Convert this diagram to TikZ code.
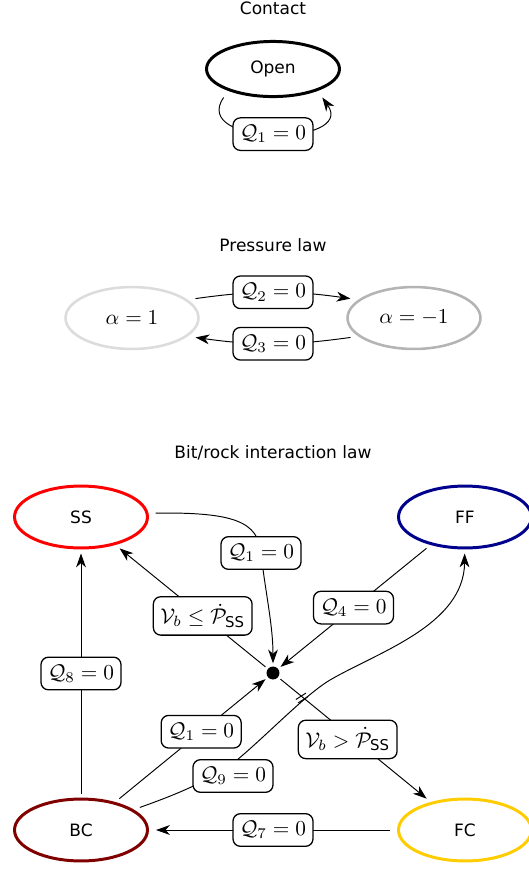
\documentclass[tikz,border=0pt]{standalone}
\usepackage{amsmath}
\usepackage{fontspec}
\newfontfamily\dv{DejaVu Sans}
\usetikzlibrary{arrows.meta,shapes.geometric,calc}
\definecolor{ssred}{RGB}{255,0,0}
\definecolor{ffblue}{RGB}{0,0,140}
\definecolor{bcred}{RGB}{128,0,0}
\definecolor{fcgold}{RGB}{255,204,0}
\definecolor{lgray}{RGB}{220,220,220}
\definecolor{mgray}{RGB}{180,180,180}
\begin{document}
\begin{tikzpicture}[x=0.47pt,y=-0.47pt,
  txt/.style={font=\dv\fontsize{8}{9.6}\selectfont},
  state/.style={ellipse, draw, line width=1.4pt, minimum width=62.5pt, minimum height=29.1pt,
    inner sep=0pt, outer xsep=4pt, outer ysep=2.6pt, txt},
  lbl/.style={draw, fill=white, rounded corners=3.5pt, line width=0.6pt, inner xsep=3.3pt, inner ysep=3.5pt},
  edge/.style={line width=0.45pt},
  arr/.style={edge, -{Stealth[length=6.5pt,width=4.6pt,inset=2pt]}},
  rarr/.style={edge, {Stealth[length=6.5pt,width=4.6pt,inset=2pt]}-},
  dot/.style={circle, fill=black, minimum size=6.1pt, inner sep=0pt, outer sep=1.5pt}]
\useasboundingbox (0,0) rectangle (529,869);

% Contact
\node[txt] (tcontact) at (273,8) {Contact};
\node[state, minimum height=25.9pt, outer sep=4.6pt] (open) at (273,69) {Open};
\draw[arr] (open.210) to[out=-125,in=-55,looseness=1.55] node[lbl] {$\mathcal{Q}_1=0$} (open.330);

% Pressure law
\node[txt] (tpress) at (273,245) {Pressure law};
\node[state, draw=lgray, line width=1.2pt, font=\normalsize] (a1) at (132,318) {$\alpha=1$};
\node[state, draw=mgray, line width=1.2pt, font=\normalsize] (a2) at (414,318) {$\alpha=-1$};
\draw[arr] (a1.17) to[out=8,in=172] node[lbl] {$\mathcal{Q}_2=0$} (a2.163);
\draw[arr] (a2.197) to[out=188,in=-8] node[lbl] {$\mathcal{Q}_3=0$} (a1.-17);

% Bit/rock interaction law
\node[txt] (tbit) at (273,453) {Bit/rock interaction law};
\node[state, draw=ssred] (ss) at (81,517) {SS};
\node[state, draw=ffblue] (ff) at (465,517) {FF};
\node[state, draw=bcred] (bc) at (81,830) {BC};
\node[state, draw=fcgold] (fc) at (465,830) {FC};
\node[dot] (j) at (273,673) {};

% SS -> junction (Q1)
\draw[arr] (ss.3) .. controls (235,512) and (258,522) .. (261,553)
  node[lbl] {$\mathcal{Q}_1=0$}
  .. controls (265,590) and (273,625) .. (j);
% junction -> SS
\draw[rarr] (ss) -- node[lbl, pos=0.57] {$\mathcal{V}_b\leq\dot{\mathcal{P}}_{\text{\dv SS}}$} (j);
% FF -> junction
\draw[arr] (ff) -- node[lbl] {$\mathcal{Q}_4=0$} (j);
% BC -> junction
\draw[arr] (bc) -- node[lbl, pos=0.56] {$\mathcal{Q}_1=0$} (j);
% junction -> FC
\draw[arr] (j) -- node[lbl, pos=0.46, yshift=-2.5pt] {$\mathcal{V}_b>\dot{\mathcal{P}}_{\text{\dv SS}}$} (fc);
% FC -> BC
\draw[arr] (fc) -- node[lbl] {$\mathcal{Q}_7=0$} (bc);
% BC -> SS
\draw[arr] (bc) -- node[lbl] {$\mathcal{Q}_8=0$} (ss);
% BC -> FF (Q9)
\draw[arr] (bc.21) .. controls (175,795) and (212,780) .. (237,760)
  .. controls (267,735) and (305,695) .. (330,680)
  .. controls (378,652) and (464,625) .. (ff);
\node[lbl] (q9) at (233,776) {$\mathcal{Q}_9=0$};
% crossing marks
\coordinate (cr) at (302,698);
\draw[edge] ($(cr)+(-6.1,1.5)$) -- ($(cr)+(3.9,-4.9)$);
\draw[edge] ($(cr)+(-3.9,4.9)$) -- ($(cr)+(6.1,-1.5)$);
\end{tikzpicture}
\end{document}
